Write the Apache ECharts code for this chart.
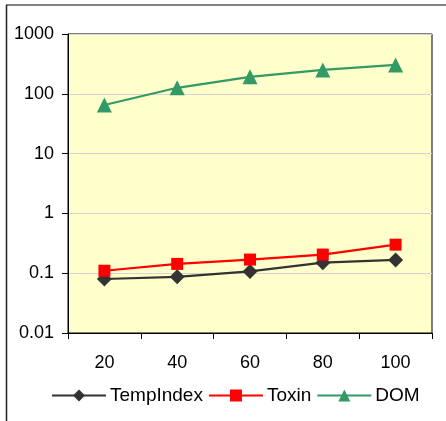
<!DOCTYPE html>
<html><head><meta charset="utf-8">
<script src="https://cdn.jsdelivr.net/npm/echarts@6/dist/echarts.min.js"></script>
<style>html,body{margin:0;padding:0;background:#fff}#c{width:446px;height:421px}</style>
</head><body><div id="c"></div>
<script>
const categories = ['20', '40', '60', '80', '100'];
const tempIndex = [0.08, 0.087, 0.107, 0.15, 0.167];
const toxin = [0.11, 0.143, 0.169, 0.205, 0.30];
const dom = [65, 126, 192, 251, 304];
const yTicks = [0.01, 0.1, 1, 10, 100, 1000];

const chart = echarts.init(document.getElementById('c'));
const font = 'Liberation Sans, Arial, sans-serif';
function mk(name, data, color, symbol, size) {
  return {name, type: 'line', data, symbol, symbolSize: size, showSymbol: true,
    lineStyle: {color, width: 2.2}, itemStyle: {color}, z: 3};
}
chart.setOption({
  animation: false,
  backgroundColor: '#fff',
  graphic: [
    {type: 'line', shape: {x1: 6, y1: 5, x2: 446, y2: 5}, style: {stroke: '#808080', lineWidth: 2}},
    {type: 'line', shape: {x1: 6.5, y1: 5, x2: 6.5, y2: 421}, style: {stroke: '#202020', lineWidth: 1.5}}
  ],
  grid: {left: 68, right: 14, top: 34, bottom: 88, show: true, backgroundColor: '#FFFFCC', borderColor: '#000', borderWidth: 1},
  xAxis: {type: 'category', data: categories, boundaryGap: true,
    axisLine: {lineStyle: {color: '#000', width: 1}},
    axisTick: {show: true, length: 6, lineStyle: {color: '#000'}},
    axisLabel: {color: '#000', fontSize: 18, fontFamily: font, margin: 21}},
  yAxis: {type: 'log', logBase: 10, min: yTicks[0], max: yTicks[yTicks.length - 1],
    axisLine: {show: true, lineStyle: {color: '#000', width: 1}},
    axisTick: {show: true, length: 6, lineStyle: {color: '#000'}},
    splitLine: {show: true, lineStyle: {color: '#d4d4d4', width: 1}},
    minorTick: {show: false},
    axisLabel: {color: '#000', fontSize: 18, fontFamily: font, margin: 14,
      formatter: v => { const r = yTicks.find(t => Math.abs(Math.log10(t) - Math.log10(v)) < 1e-6); return r === undefined ? '' : String(r); }}},
  legend: {bottom: 11, left: 46, itemWidth: 54, itemHeight: 15, itemGap: 5,
    textStyle: {color: '#000', fontSize: 19, fontFamily: font, padding: [0, 0, 0, -1]},
    data: ['TempIndex', 'Toxin', 'DOM']},
  series: [
    mk('TempIndex', tempIndex, '#333333', 'diamond', 15),
    mk('Toxin', toxin, '#FF0000', 'rect', 12),
    mk('DOM', dom, '#339966', 'triangle', 15)
  ]
});
</script></body></html>
